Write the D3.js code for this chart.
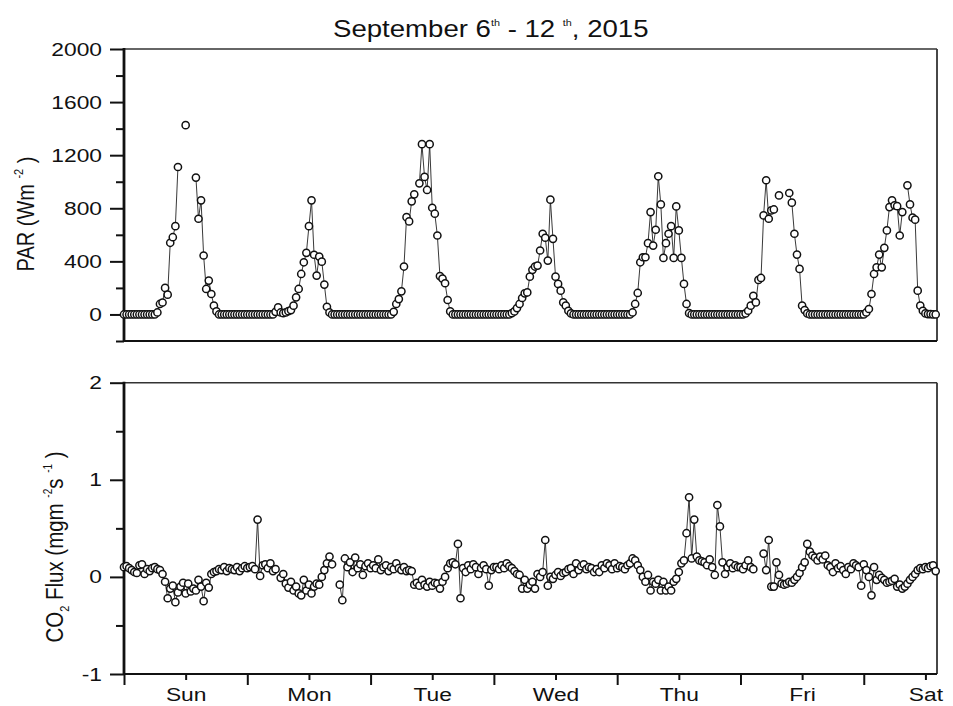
<!DOCTYPE html>
<html>
<head>
<meta charset="utf-8">
<script src="https://cdn.jsdelivr.net/npm/d3@7"></script>
<style>
  body { margin: 0; background: #fff; }
  svg text { font-family: "Liberation Sans", Arial, sans-serif; fill: #111; }
</style>
</head>
<body>
<script>
// half-hourly values, one array per day (null = missing record)
var dayLabels = ["Sun", "Mon", "Tue", "Wed", "Thu", "Fri", "Sat"];
var parTicks = [0, 400, 800, 1200, 1600, 2000];
var parMinor = [-200, 200, 600, 1000, 1400, 1800];
var co2Ticks = [-1, 0, 1, 2];
var co2Minor = [-0.5, 0.5, 1.5];

var parSun = [0,0,0,0,0,0,0,0,0,0,0,0,0,15,79,90,200,149,540,582,665,1111,null,null,1426,null,null,null,1031,721,860,444,192,255,154,66,23,0,0,0,0,0,0,0,0,0,0,0];
var parMon = [0,0,0,0,0,0,0,0,0,0,0,20,53,15,10,15,25,33,66,129,192,305,393,464,665,860,450,293,436,398,225,58,15,0,0,0,0,0,0,0,0,0,0,0,0,0,0,0];
var parTue = [0,0,0,0,0,0,0,0,0,20,79,116,174,361,733,701,852,905,null,988,1283,1036,938,1283,804,759,595,289,270,235,109,23,0,0,0,0,0,0,0,0,0,0,0,0,0,0,0,0];
var parWed = [0,0,0,0,0,0,0,10,23,48,79,124,159,166,285,336,361,368,482,608,578,406,865,570,285,230,179,91,66,28,8,0,0,0,0,0,0,0,0,0,0,0,0,0,0,0,0,0];
var parThu = [0,0,0,0,0,0,15,79,162,393,431,431,537,771,519,638,1041,829,426,537,608,665,426,814,633,426,230,79,10,0,0,0,0,0,0,0,0,0,0,0,0,0,0,0,0,0,0,0];
var parFri = [0,0,8,28,66,141,91,260,275,746,1011,721,784,791,null,897,null,null,null,915,842,608,451,343,66,33,8,0,0,0,0,0,0,0,0,0,0,0,0,0,0,0,0,0,0,0,0,0];
var parSat = [0,15,41,154,305,355,451,355,502,633,809,860,822,816,595,771,null,973,829,729,714,179,66,28,8,3,3,0,0];

var co2Sun = [0.10,0.11,0.09,0.07,0.05,0.04,0.12,0.13,0.03,0.08,0.06,0.09,0.10,0.08,0.07,0.03,-0.05,-0.22,-0.12,-0.09,-0.26,-0.16,-0.10,-0.06,-0.17,-0.07,-0.15,-0.12,-0.14,-0.03,-0.10,-0.25,-0.06,-0.11,0.03,0.05,0.06,0.08,0.07,0.10,0.06,0.09,0.08,0.07,0.10,0.06,0.09,0.11];
var co2Mon = [0.09,0.10,0.11,0.08,0.59,0.01,0.12,0.13,0.09,0.14,0.06,0.08,null,-0.01,0.03,-0.07,-0.11,-0.05,-0.14,-0.10,-0.17,-0.19,-0.03,-0.14,-0.08,-0.17,-0.10,-0.07,-0.08,0.00,0.07,0.14,0.21,0.13,null,null,-0.08,-0.24,0.19,0.10,0.15,0.05,0.20,0.09,0.13,0.02,0.11,0.14];
var co2Tue = [0.09,0.12,0.09,0.18,0.07,0.10,0.12,0.06,0.10,0.08,0.14,0.09,0.07,0.10,0.06,0.07,0.06,-0.08,-0.06,-0.09,-0.03,-0.08,-0.10,-0.05,-0.09,-0.06,-0.07,-0.12,-0.05,0.00,0.09,0.14,0.15,0.13,0.34,-0.22,0.09,0.05,0.12,0.08,0.13,0.10,0.03,0.09,0.12,0.08,-0.09,0.07];
var co2Wed = [0.10,0.10,0.08,0.12,0.09,0.14,0.11,0.09,0.06,0.03,0.02,-0.12,-0.03,-0.12,-0.08,-0.05,-0.12,0.03,0.00,0.05,0.38,-0.09,0.00,-0.02,0.02,0.05,0.01,0.04,0.05,0.08,0.09,0.03,0.14,0.07,0.11,0.13,0.08,0.10,0.09,0.05,0.08,0.05,0.12,0.09,0.14,0.12,0.08,0.14];
var co2Thu = [0.09,0.11,0.10,0.08,0.12,0.14,0.19,0.17,0.12,0.07,0.00,-0.05,0.02,-0.14,-0.05,-0.07,-0.03,-0.14,-0.05,-0.14,-0.10,-0.14,-0.05,-0.02,0.05,0.14,0.17,0.45,0.82,0.19,0.59,0.21,0.17,0.16,0.15,0.12,0.18,0.10,0.02,0.74,0.52,0.15,0.03,0.10,0.14,0.09,0.12,0.10];
var co2Fri = [0.10,0.08,0.12,0.17,0.10,0.08,null,null,null,0.24,0.07,0.38,-0.10,-0.10,0.15,0.02,-0.07,-0.08,-0.07,-0.05,-0.06,-0.03,0.00,0.04,0.10,0.15,0.34,0.26,0.22,0.20,0.17,0.21,0.18,0.22,0.12,0.10,0.05,0.14,0.09,0.11,0.07,0.03,0.10,0.08,0.14,0.12,0.10,-0.09];
var co2Sat = [0.13,0.07,0.00,-0.19,0.10,-0.03,0.02,-0.01,-0.03,-0.06,-0.05,-0.04,-0.02,-0.10,-0.08,-0.12,-0.10,-0.07,-0.03,0.00,0.03,0.07,0.09,0.08,0.10,0.09,0.11,0.12,0.06];

var w = 953;
var h = 706;
var left = 124;
var right = 937;
var sx = 1.2; // the original figure is stretched sideways, text too

// flatten day arrays into {t (days), v}
var toSeries = function(days) {
  var out = [];
  days.forEach((arr, d) => {
    arr.forEach((v, i) => {
      out.push({t: d + i / 48, v: v});
    });
  });
  return out;
};
var parData = toSeries([parSun, parMon, parTue, parWed, parThu, parFri, parSat]);
var co2Data = toSeries([co2Sun, co2Mon, co2Tue, co2Wed, co2Thu, co2Fri, co2Sat]);

var x = d3.scaleLinear().domain([0, 6.594]).range([left, right]);
var yPar = d3.scaleLinear().domain([-200, 2000]).range([341, 49]);
var yCo2 = d3.scaleLinear().domain([-1, 2]).range([674, 382.7]);

var svg = d3.select("body").append("svg")
  .attr("width", w)
  .attr("height", h);

var panel = function(y, data, ticks, minor) {
  var g = svg.append("g");
  var y0 = y.range()[0], y1 = y.range()[1];

  // frame
  g.append("line").attr("x1", left).attr("x2", right).attr("y1", y1).attr("y2", y1)
    .attr("stroke", "#333").attr("stroke-width", 1.6);
  g.append("line").attr("x1", right).attr("x2", right).attr("y1", y1).attr("y2", y0)
    .attr("stroke", "#333").attr("stroke-width", 1.8);
  g.append("line").attr("x1", left).attr("x2", right).attr("y1", y0).attr("y2", y0)
    .attr("stroke", "#111").attr("stroke-width", 2.2);

  var ax = g.append("g")
    .attr("transform", "translate(" + left + ",0)")
    .call(d3.axisLeft(y).tickValues(ticks).tickSize(14).tickFormat((d) => String(d)));
  ax.select(".domain").remove();
  ax.selectAll("line").attr("stroke", "#111").attr("stroke-width", 2);
  ax.selectAll("text")
    .attr("x", -22 / sx)
    .attr("transform", "scale(" + sx + ",1)")
    .style("font-size", "19px");

  var axm = g.append("g")
    .attr("transform", "translate(" + left + ",0)")
    .call(d3.axisLeft(y).tickValues(minor).tickSize(8).tickFormat(""));
  axm.select(".domain").remove();
  axm.selectAll("line").attr("stroke", "#111").attr("stroke-width", 2);

  g.append("line").attr("x1", left).attr("x2", left).attr("y1", y1 - 1).attr("y2", y0 + 1)
    .attr("stroke", "#111").attr("stroke-width", 2.8);

  var line = d3.line()
    .defined((d) => d.v != null)
    .x((d) => x(d.t))
    .y((d) => y(d.v));

  g.append("path")
    .datum(data)
    .attr("d", line)
    .attr("fill", "none")
    .attr("stroke", "#222")
    .attr("stroke-width", 0.9);

  g.selectAll(".pt")
    .data(data.filter((d) => d.v != null))
    .enter()
      .append("circle")
      .classed("pt", true)
      .attr("cx", (d) => x(d.t))
      .attr("cy", (d) => y(d.v))
      .attr("r", 3.6)
      .attr("fill", "#fff")
      .attr("stroke", "#111")
      .attr("stroke-width", 1.5);
};

panel(yPar, parData, parTicks, parMinor);
panel(yCo2, co2Data, co2Ticks, co2Minor);

// day axis under the lower panel: long ticks at midnight, labels at noon
var dayStarts = d3.range(0, 7);
var noons = dayStarts.map((d) => d + 0.5);

var xMaj = svg.append("g")
  .attr("transform", "translate(0,674)")
  .call(d3.axisBottom(x).tickValues(dayStarts).tickSize(11).tickFormat(""));
xMaj.select(".domain").remove();
xMaj.selectAll("line").attr("stroke", "#111").attr("stroke-width", 2);

var xMin = svg.append("g")
  .attr("transform", "translate(0,674)")
  .call(d3.axisBottom(x).tickValues(noons).tickSize(6).tickFormat((d, i) => dayLabels[i]));
xMin.select(".domain").remove();
xMin.selectAll("line").attr("stroke", "#111").attr("stroke-width", 2);
xMin.selectAll("text")
  .attr("y", 27)
  .attr("dy", null)
  .attr("transform", "scale(" + sx + ",1)")
  .attr("x", 0)
  .style("font-size", "19px");

// title
var title = svg.append("text")
  .attr("transform", "translate(333,37) scale(" + sx + ",1)")
  .style("font-size", "23px");
title.append("tspan").text("September 6");
title.append("tspan").attr("dy", -11).style("font-size", "9px").text("th");
title.append("tspan").attr("dy", 11).text(" - 12 ");
title.append("tspan").attr("dy", -11).style("font-size", "9px").text("th");
title.append("tspan").attr("dy", 11).text(", 2015");

// y axis titles
var t1 = svg.append("text")
  .attr("transform", "translate(34,214) rotate(-90) scale(1," + sx + ")")
  .attr("text-anchor", "middle")
  .style("font-size", "20px");
t1.append("tspan").text("PAR (Wm ");
t1.append("tspan").attr("dy", -9).style("font-size", "11px").text("-2");
t1.append("tspan").attr("dy", 9).text(" )");

var t2 = svg.append("text")
  .attr("transform", "translate(63,547) rotate(-90) scale(1," + sx + ")")
  .attr("text-anchor", "middle")
  .style("font-size", "20.5px");
t2.append("tspan").text("CO");
t2.append("tspan").attr("dy", 5).style("font-size", "11px").text("2");
t2.append("tspan").attr("dy", -5).text(" Flux (mgm ");
t2.append("tspan").attr("dy", -9).style("font-size", "10px").text("-2");
t2.append("tspan").attr("dy", 9).text("s ");
t2.append("tspan").attr("dy", -9).style("font-size", "10px").text("-1");
t2.append("tspan").attr("dy", 9).text(" )");
</script>
</body>
</html>
